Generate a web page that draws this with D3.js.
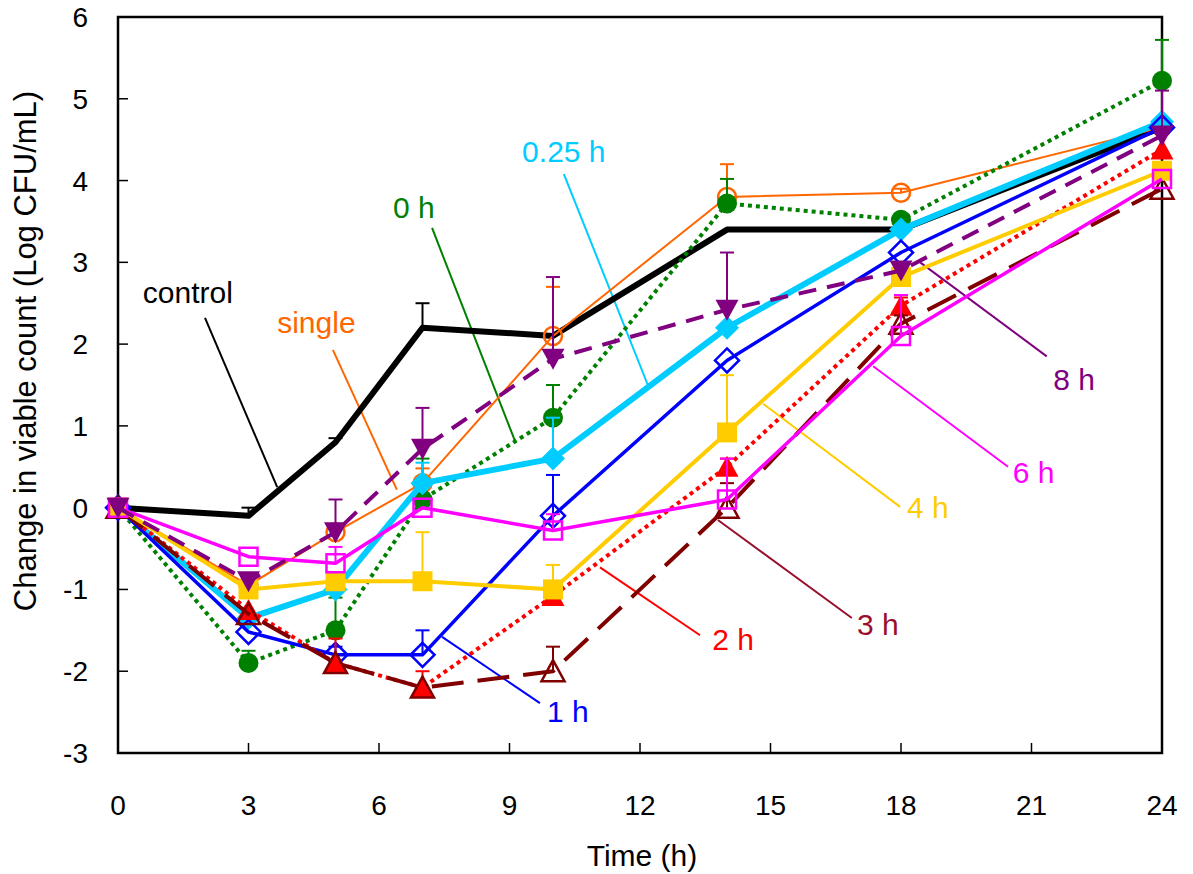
<!DOCTYPE html>
<meta charset="utf-8">
<html lang="en">
<head>
    <title>Viable count</title>
    <script src="https://cdn.jsdelivr.net/npm/d3@7"></script>
</head>
<style>
    body { margin: 0; background: white; }
    svg { display: block; }
    text { font-family: "Liberation Sans", Arial, sans-serif; }
</style>
<body>
<svg width="1193" height="874"></svg>
<script>
    // sampling times (h)
    const times = [0, 3, 5, 7, 10, 14, 18, 24]

    // change in viable count, mean and upper error bar
    const controlMean = [0, -0.1, 0.8, 2.2, 2.1, 3.4, 3.4, 4.65]
    const controlErr  = [0, 0.1, 0.05, 0.3, 0, 0, 0, 0]
    const singleMean  = [0, -0.95, -0.3, 0.3, 2.1, 3.8, 3.85, 4.65]
    const singleErr   = [0, 0, 0, 0.18, 0.6, 0.4, 0.05, 0]
    const h0Mean      = [0, -1.9, -1.5, 0.1, 1.1, 3.72, 3.52, 5.22]
    const h0Err       = [0, 0.15, 0.4, 0.5, 0.4, 0.3, 0.05, 0.5]
    const h025Mean    = [0, -1.35, -1.0, 0.3, 0.6, 2.2, 3.4, 4.72]
    const h025Err     = [0, 0, 0, 0.25, 0.5, 0, 0, 0]
    const h1Mean      = [0, -1.52, -1.8, -1.8, -0.1, 1.8, 3.12, 4.65]
    const h1Err       = [0, 0, 0.1, 0.3, 0.5, 0, 0, 0]
    const h2Mean      = [0, -1.25, -1.9, -2.2, -1.08, 0.5, 2.47, 4.38]
    const h2Err       = [0, 0, 0.3, 0.2, 0.1, 0.1, 0.1, 0]
    const h3Mean      = [0, -1.3, -1.9, -2.2, -2.0, 0.0, 2.25, 3.9]
    const h3Err       = [0, 0, 0, 0, 0.3, 0.3, 0.1, 0]
    const h4Mean      = [0, -1.0, -0.9, -0.9, -1.0, 0.92, 2.82, 4.12]
    const h4Err       = [0, 0, 0, 0.6, 0.3, 0.7, 0, 0]
    const h6Mean      = [0, -0.6, -0.68, 0.0, -0.28, 0.1, 2.1, 4.02]
    const h6Err       = [0, 0, 0.2, 0, 0.2, 0.5, 0.5, 0]
    const h8Mean      = [0, -0.9, -0.3, 0.72, 1.82, 2.42, 2.9, 4.55]
    const h8Err       = [0, 0, 0.4, 0.5, 1.0, 0.7, 0.05, 0.55]

    const xTicks = [0, 3, 6, 9, 12, 15, 18, 21, 24]
    const yTicks = [-3, -2, -1, 0, 1, 2, 3, 4, 5, 6]

    // label text position and leader line, in data units [time, value]
    const labelNames = ["control", "single", "0 h", "0.25 h", "1 h", "2 h", "3 h", "4 h", "6 h", "8 h"]
    const labelPos   = [[0.57, 2.5], [3.66, 2.14], [6.32, 3.54], [9.29, 4.23], [9.86, -2.62],
                        [13.66, -1.74], [16.99, -1.56], [18.14, -0.13], [20.57, 0.3], [21.5, 1.44]]
    const leaderFrom = [[2.0, 2.32], [4.94, 1.93], [7.22, 3.42], [10.25, 4.08], [9.7, -2.39],
                        [13.38, -1.56], [16.87, -1.35], [17.98, 0.01], [20.46, 0.5], [21.35, 1.85]]
    const leaderTo   = [[3.66, 0.25], [6.41, 0.22], [9.13, 0.81], [12.18, 1.5], [7.45, -1.58],
                        [11.08, -0.73], [13.79, -0.15], [14.83, 1.27], [17.36, 1.73], [18.44, 3.0]]
    const labelColors = ["#000000", "#ff6600", "#008000", "#00ccff", "#0000ff",
                         "#ff0000", "#99102e", "#ffcc00", "#ff00ff", "#800080"]

    const series = [
        {mean: controlMean, err: controlErr, color: "#000000", width: 6, dash: null, marker: null},
        {mean: singleMean, err: singleErr, color: "#ff6600", width: 2, dash: null, marker: "circleOpen"},
        {mean: h0Mean, err: h0Err, color: "#008000", width: 4, dash: "4 4", marker: "circle"},
        {mean: h025Mean, err: h025Err, color: "#00ccff", width: 6, dash: null, marker: "diamond"},
        {mean: h1Mean, err: h1Err, color: "#0000ff", width: 3.5, dash: null, marker: "diamondOpen"},
        {mean: h2Mean, err: h2Err, color: "#ff0000", width: 4, dash: "4 4", marker: "triangle"},
        {mean: h3Mean, err: h3Err, color: "#800000", width: 4, dash: "32 14", marker: "triangleOpen"},
        {mean: h4Mean, err: h4Err, color: "#ffcc00", width: 4, dash: null, marker: "square"},
        {mean: h6Mean, err: h6Err, color: "#ff00ff", width: 3.5, dash: null, marker: "squareOpen"},
        {mean: h8Mean, err: h8Err, color: "#800080", width: 4, dash: "18 11", marker: "triangleDown"}
    ]

    const svg = d3.select("svg")
    const x = d3.scaleLinear().domain([0, 24]).range([118, 1162])
    const y = d3.scaleLinear().domain([-3, 6]).range([753, 17])

    // frame
    svg.append("rect")
        .attr("x", x(0)).attr("y", y(6))
        .attr("width", x(24) - x(0)).attr("height", y(-3) - y(6))
        .attr("fill", "none").attr("stroke", "#000").attr("stroke-width", 2.5)

    // inward ticks
    svg.append("g").selectAll("line").data(xTicks.slice(1, -1)).enter().append("line")
        .attr("x1", d => x(d)).attr("x2", d => x(d))
        .attr("y1", y(-3)).attr("y2", y(-3) - 10)
        .attr("stroke", "#000").attr("stroke-width", 1.5)
    svg.append("g").selectAll("line").data(yTicks.slice(1, -1)).enter().append("line")
        .attr("x1", x(0)).attr("x2", x(0) + 10)
        .attr("y1", d => y(d)).attr("y2", d => y(d))
        .attr("stroke", "#000").attr("stroke-width", 1.5)

    svg.append("g").selectAll("text").data(xTicks).enter().append("text")
        .attr("x", d => x(d)).attr("y", 815)
        .attr("text-anchor", "middle").attr("font-size", 28)
        .text(d => d)
    svg.append("g").selectAll("text").data(yTicks).enter().append("text")
        .attr("x", 88).attr("y", d => y(d) + 10)
        .attr("text-anchor", "end").attr("font-size", 28)
        .text(d => d)

    svg.append("text")
        .attr("x", 642).attr("y", 866)
        .attr("text-anchor", "middle").attr("font-size", 30)
        .text("Time (h)")
    svg.append("text")
        .attr("transform", "translate(36,351) rotate(-90)")
        .attr("text-anchor", "middle").attr("font-size", 31)
        .text("Change in viable count (Log CFU/mL)")

    // leader lines and labels
    labelNames.forEach(function(name, i) {
        svg.append("line")
            .attr("x1", x(leaderFrom[i][0])).attr("y1", y(leaderFrom[i][1]))
            .attr("x2", x(leaderTo[i][0])).attr("y2", y(leaderTo[i][1]))
            .attr("stroke", labelColors[i]).attr("stroke-width", 2)
        svg.append("text")
            .attr("x", x(labelPos[i][0])).attr("y", y(labelPos[i][1]))
            .attr("font-size", 30).attr("fill", labelColors[i])
            .text(name)
    })

    const line = d3.line()
        .x((d, i) => x(times[i]))
        .y(d => y(d))

    function markerPath(type) {
        if (type === "diamond" || type === "diamondOpen") return "M0,-12L12,0L0,12L-12,0Z"
        if (type === "triangle" || type === "triangleOpen") return "M0,-11L11.5,10L-11.5,10Z"
        if (type === "triangleDown") return "M0,11L11.5,-10L-11.5,-10Z"
        if (type === "square") return "M-10,-10H10V10H-10Z"
        if (type === "squareOpen") return "M-9,-9H9V9H-9Z"
        return null
    }

    series.forEach(function(s) {
        const g = svg.append("g")
        g.append("path")
            .attr("d", line(s.mean))
            .attr("fill", "none")
            .attr("stroke", s.color)
            .attr("stroke-width", s.width)
            .attr("stroke-dasharray", s.dash)
            .attr("stroke-linejoin", "round")

        // upper error bars
        const eb = g.selectAll(".eb").data(s.mean.map((m, i) => ({t: times[i], m: m, e: s.err[i]})).filter(d => d.e > 0))
            .enter().append("g")
        eb.append("line")
            .attr("x1", d => x(d.t)).attr("x2", d => x(d.t))
            .attr("y1", d => y(d.m)).attr("y2", d => y(d.m + d.e))
            .attr("stroke", s.color).attr("stroke-width", 2)
        eb.append("line")
            .attr("x1", d => x(d.t) - 7).attr("x2", d => x(d.t) + 7)
            .attr("y1", d => y(d.m + d.e)).attr("y2", d => y(d.m + d.e))
            .attr("stroke", s.color).attr("stroke-width", 2)

        if (!s.marker) return
        const open = s.marker.endsWith("Open")
        const pts = g.selectAll(".pt").data(s.mean).enter()
        if (s.marker === "circle" || s.marker === "circleOpen") {
            pts.append("circle")
                .attr("cx", (d, i) => x(times[i])).attr("cy", d => y(d))
                .attr("r", open ? 9 : 10)
                .attr("fill", open ? "none" : s.color)
                .attr("stroke", open ? s.color : "none")
                .attr("stroke-width", 2.5)
        } else {
            pts.append("path")
                .attr("transform", (d, i) => "translate(" + [x(times[i]), y(d)] + ")")
                .attr("d", markerPath(s.marker))
                .attr("fill", open ? "none" : s.color)
                .attr("stroke", open ? s.color : "none")
                .attr("stroke-width", 2.5)
        }
    })
</script>
</body>
</html>
